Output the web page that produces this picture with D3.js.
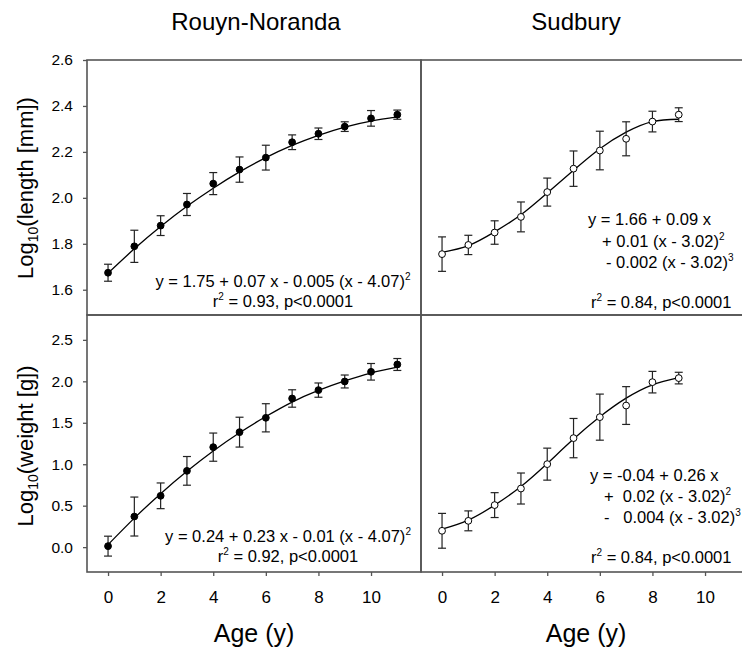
<!DOCTYPE html>
<html>
<head>
<meta charset="utf-8">
<script src="https://cdn.jsdelivr.net/npm/d3@7"></script>
<style>
  html, body { margin: 0; padding: 0; background: #fff; }
  svg { display: block; }
  text { font-family: "Liberation Sans", Arial, sans-serif; fill: #000; }
</style>
</head>
<body>
<svg id="chart" width="742" height="648"></svg>
<script>
// ---------- data ----------
const rnAges = [0, 1, 2, 3, 4, 5, 6, 7, 8, 9, 10, 11];
const sdAges = [0, 1, 2, 3, 4, 5, 6, 7, 8, 9];

const rnLength    = [1.674, 1.789, 1.879, 1.971, 2.062, 2.123, 2.175, 2.242, 2.279, 2.310, 2.346, 2.362];
const rnLengthErr = [0.037, 0.070, 0.043, 0.048, 0.048, 0.055, 0.054, 0.032, 0.025, 0.021, 0.034, 0.020];
const rnLengthFit = [1.672, 1.778, 1.875, 1.963, 2.042, 2.113, 2.175, 2.228, 2.272, 2.308, 2.334, 2.352];

const sdLength    = [1.755, 1.795, 1.849, 1.917, 2.025, 2.127, 2.206, 2.257, 2.332, 2.362];
const sdLengthErr = [0.075, 0.042, 0.051, 0.065, 0.061, 0.077, 0.084, 0.074, 0.045, 0.030];
const sdLengthFit = [1.763, 1.792, 1.852, 1.926, 2.021, 2.120, 2.214, 2.286, 2.332, 2.342];

const rnWeight    = [0.012, 0.369, 0.619, 0.920, 1.206, 1.387, 1.560, 1.793, 1.894, 1.998, 2.115, 2.203];
const rnWeightErr = [0.120, 0.235, 0.155, 0.173, 0.170, 0.180, 0.170, 0.105, 0.086, 0.078, 0.100, 0.072];
const rnWeightFit = [0.030, 0.350, 0.645, 0.915, 1.160, 1.380, 1.575, 1.750, 1.890, 2.005, 2.100, 2.170];

const sdWeight    = [0.197, 0.317, 0.507, 0.707, 1.001, 1.315, 1.568, 1.708, 1.990, 2.039];
const sdWeightErr = [0.210, 0.120, 0.150, 0.187, 0.193, 0.237, 0.278, 0.228, 0.130, 0.070];
const sdWeightFit = [0.217, 0.326, 0.507, 0.731, 1.009, 1.303, 1.572, 1.797, 1.958, 2.046];

const xTicks       = [0, 2, 4, 6, 8, 10];
const lengthTicks  = [1.6, 1.8, 2.0, 2.2, 2.4, 2.6];
const weightTicks  = [0.0, 0.5, 1.0, 1.5, 2.0, 2.5];

const siteTitles = ["Rouyn-Noranda", "Sudbury"];

// ---------- layout ----------
const svg = d3.select("#chart");
const frameColor = "#555";
const colX = [[87, 421], [421, 755]];
const rowY = [[60, 315], [315, 572]];

const xScales = colX.map(r => d3.scaleLinear().domain([-0.8, 11.9]).range(r));
const yLength = d3.scaleLinear().domain([1.49, 2.6]).range([rowY[0][1], rowY[0][0]]);
const yWeight = d3.scaleLinear().domain([-0.3, 2.8]).range([rowY[1][1], rowY[1][0]]);

const panels = [
  { col: 0, y: yLength, ages: rnAges, vals: rnLength, err: rnLengthErr, fit: rnLengthFit, open: false,
    eq: [{ x: 283, y: 287, anchor: "middle", parts: [["y = 1.75 + 0.07 x - 0.005 (x - 4.07)"], ["2", "sup"]] },
         { x: 283, y: 307, anchor: "middle", parts: [["r"], ["2", "sup"], [" = 0.93, p<0.0001"]] }] },
  { col: 1, y: yLength, ages: sdAges, vals: sdLength, err: sdLengthErr, fit: sdLengthFit, open: true,
    eq: [{ x: 588, y: 225, anchor: "start", parts: [["y = 1.66 + 0.09 x"]] },
         { x: 602, y: 247, anchor: "start", parts: [["+ 0.01 (x - 3.02)"], ["2", "sup"]] },
         { x: 606, y: 268, anchor: "start", parts: [["- 0.002 (x - 3.02)"], ["3", "sup"]] },
         { x: 591, y: 308, anchor: "start", parts: [["r"], ["2", "sup"], [" = 0.84, p<0.0001"]] }] },
  { col: 0, y: yWeight, ages: rnAges, vals: rnWeight, err: rnWeightErr, fit: rnWeightFit, open: false,
    eq: [{ x: 288, y: 542, anchor: "middle", parts: [["y = 0.24 + 0.23 x - 0.01 (x - 4.07)"], ["2", "sup"]] },
         { x: 288, y: 562, anchor: "middle", parts: [["r"], ["2", "sup"], [" = 0.92, p<0.0001"]] }] },
  { col: 1, y: yWeight, ages: sdAges, vals: sdWeight, err: sdWeightErr, fit: sdWeightFit, open: true,
    eq: [{ x: 590, y: 481, anchor: "start", parts: [["y = -0.04 + 0.26 x"]] },
         { x: 604, y: 502, anchor: "start", parts: [["+  0.02 (x - 3.02)"], ["2", "sup"]] },
         { x: 604, y: 523, anchor: "start", parts: [["-   0.004 (x - 3.02)"], ["3", "sup"]] },
         { x: 591, y: 563, anchor: "start", parts: [["r"], ["2", "sup"], [" = 0.84, p<0.0001"]] }] }
];

// frames
panels.forEach(p => {
  const [x0, x1] = colX[p.col];
  const [y0, y1] = p.y.range().slice().reverse();
  svg.append("rect")
    .attr("x", x0).attr("y", y0).attr("width", x1 - x0).attr("height", y1 - y0)
    .attr("fill", "none").attr("stroke", frameColor).attr("stroke-width", 1.6);
});

// panel contents
panels.forEach(p => {
  const x = xScales[p.col], y = p.y;
  const g = svg.append("g");
  const pts = p.ages.map((a, i) => ({ a, v: p.vals[i], e: p.err[i], f: p.fit[i] }));

  // fit curve
  g.append("path")
    .datum(pts)
    .attr("fill", "none").attr("stroke", "#000").attr("stroke-width", 1.3)
    .attr("d", d3.line().x(d => x(d.a)).y(d => y(d.f)).curve(d3.curveNatural));

  // error bars
  const cap = 4;
  const eb = g.selectAll(".eb").data(pts).enter().append("g")
    .attr("stroke", "#222").attr("stroke-width", 1.2);
  eb.append("line").attr("x1", d => x(d.a)).attr("x2", d => x(d.a))
    .attr("y1", d => y(d.v - d.e)).attr("y2", d => y(d.v + d.e));
  eb.append("line").attr("x1", d => x(d.a) - cap).attr("x2", d => x(d.a) + cap)
    .attr("y1", d => y(d.v + d.e)).attr("y2", d => y(d.v + d.e));
  eb.append("line").attr("x1", d => x(d.a) - cap).attr("x2", d => x(d.a) + cap)
    .attr("y1", d => y(d.v - d.e)).attr("y2", d => y(d.v - d.e));

  // points
  g.selectAll(".pt").data(pts).enter().append("circle")
    .attr("cx", d => x(d.a)).attr("cy", d => y(d.v)).attr("r", 3.4)
    .attr("fill", p.open ? "#fff" : "#000")
    .attr("stroke", "#000").attr("stroke-width", 1);

  // equation text
  p.eq.forEach(line => {
    const t = g.append("text").attr("x", line.x).attr("y", line.y)
      .attr("text-anchor", line.anchor).attr("font-size", 16.5)
      .attr("xml:space", "preserve").style("white-space", "pre");
    line.parts.forEach((part, k) => {
      const ts = t.append("tspan").text(part[0]);
      if (part[1] === "sup") ts.attr("font-size", 10).attr("dy", -7);
      else if (k > 0 && line.parts[k - 1][1] === "sup") ts.attr("dy", 7);
    });
  });
});

// axes
const axisStyle = sel => {
  sel.select(".domain").remove();
  sel.selectAll(".tick line").attr("stroke", frameColor).attr("stroke-width", 1.3);
  sel.selectAll(".tick text").attr("fill", "#000").style("font-family", '"Liberation Sans", Arial, sans-serif');
};

svg.append("g").attr("transform", `translate(${colX[0][0]},0)`)
  .call(d3.axisLeft(yLength).tickValues(lengthTicks).tickSize(4).tickPadding(10).tickFormat(d3.format(".1f")))
  .call(axisStyle).selectAll("text").attr("font-size", 15.5);

svg.append("g").attr("transform", `translate(${colX[0][0]},0)`)
  .call(d3.axisLeft(yWeight).tickValues(weightTicks).tickSize(4).tickPadding(10).tickFormat(d3.format(".1f")))
  .call(axisStyle).selectAll("text").attr("font-size", 15.5);

xScales.forEach(xs => {
  svg.append("g").attr("transform", `translate(0,${rowY[1][1]})`)
    .call(d3.axisBottom(xs).tickValues(xTicks).tickSize(4).tickPadding(15))
    .call(axisStyle).selectAll("text").attr("font-size", 17);
});

// titles
const titleX = [256, 576];
siteTitles.forEach((s, i) => {
  svg.append("text").attr("x", titleX[i]).attr("y", 30).attr("text-anchor", "middle")
    .attr("font-size", 24).text(s);
});

// x-axis labels
const ageX = [254, 586];
ageX.forEach(xx => {
  svg.append("text").attr("x", xx).attr("y", 642).attr("text-anchor", "middle")
    .attr("font-size", 25).text("Age (y)");
});

// y-axis labels
const yLabels = [
  { cy: 188, main: "length [mm])" },
  { cy: 446, main: "weight [g])" }
];
yLabels.forEach(l => {
  const t = svg.append("text")
    .attr("transform", `translate(33,${l.cy}) rotate(-90)`)
    .attr("text-anchor", "middle").attr("font-size", 22);
  t.append("tspan").text("Log");
  t.append("tspan").text("10").attr("font-size", 14).attr("dy", 5);
  t.append("tspan").text("(" + l.main).attr("dy", -5);
});
</script>
</body>
</html>
